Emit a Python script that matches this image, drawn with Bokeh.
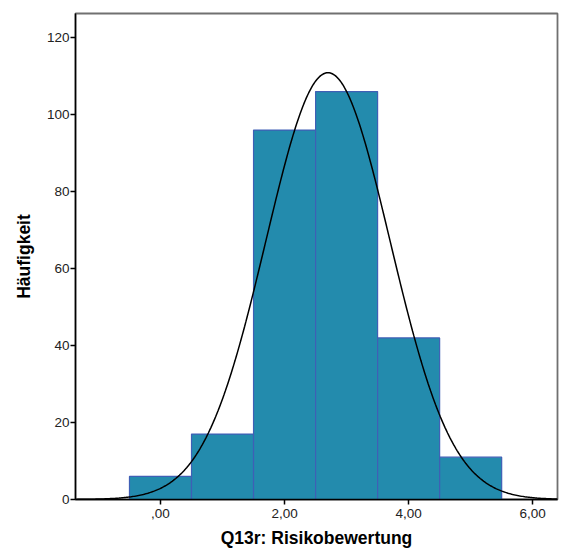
import numpy as np
from bokeh.plotting import figure
from bokeh.models import FixedTicker, Range1d
from bokeh.embed import file_html
from bokeh.resources import INLINE

# Data
bin_centers = [0, 1, 2, 3, 4, 5]
counts = [6, 17, 96, 106, 42, 11]
bin_width = 1.0
x_ticks = [0, 2, 4, 6]
x_tick_labels = {0: ",00", 2: "2,00", 4: "4,00", 6: "6,00"}
y_ticks = [0, 20, 40, 60, 80, 100, 120]
fit_mean = 2.70
fit_sd = 1.00
fit_n = 278

p = figure(width=560, height=558, output_backend="svg", toolbar_location=None,
           x_range=Range1d(-1.37, 6.40), y_range=Range1d(0, 126.3),
           min_border_left=75, min_border_right=3, min_border_top=13, min_border_bottom=59)

p.vbar(x=bin_centers, top=counts, width=bin_width, bottom=0,
       fill_color="#238bad", line_color="#3f5fb5", line_width=1.2)

xs = np.linspace(-1.37, 6.40, 400)
ys = fit_n * bin_width / (fit_sd * np.sqrt(2 * np.pi)) * np.exp(-0.5 * ((xs - fit_mean) / fit_sd) ** 2)
p.line(xs, ys, line_color="black", line_width=1.5)

p.xgrid.visible = False
p.ygrid.visible = False
p.outline_line_color = "#707070"
p.outline_line_width = 1.8

for ax in (p.xaxis[0], p.yaxis[0]):
    ax.axis_line_color = "black"
    ax.axis_line_width = 1.5
    ax.major_tick_line_color = "black"
    ax.major_tick_line_width = 1.5
    ax.major_tick_out = 5
    ax.major_tick_in = 0
    ax.minor_tick_line_color = None
    ax.major_label_text_font = "Liberation Sans"
    ax.major_label_text_font_size = "13.5px"
    ax.major_label_text_color = "#222222"
    ax.axis_label_text_font = "Liberation Sans"
    ax.axis_label_text_font_style = "bold"
    ax.axis_label_text_font_size = "17.5px"
    ax.axis_label_text_color = "black"

p.xaxis.ticker = FixedTicker(ticks=x_ticks)
p.xaxis.major_label_overrides = x_tick_labels
p.yaxis.ticker = FixedTicker(ticks=y_ticks)
p.xaxis.axis_label = "Q13r: Risikobewertung"
p.yaxis.axis_label = "Häufigkeit"
p.xaxis.axis_label_standoff = 7
p.yaxis.axis_label_standoff = 10
p.xaxis.major_label_standoff = 4
p.yaxis.major_label_standoff = 1

open("out.html", "w").write(file_html(p, INLINE))
